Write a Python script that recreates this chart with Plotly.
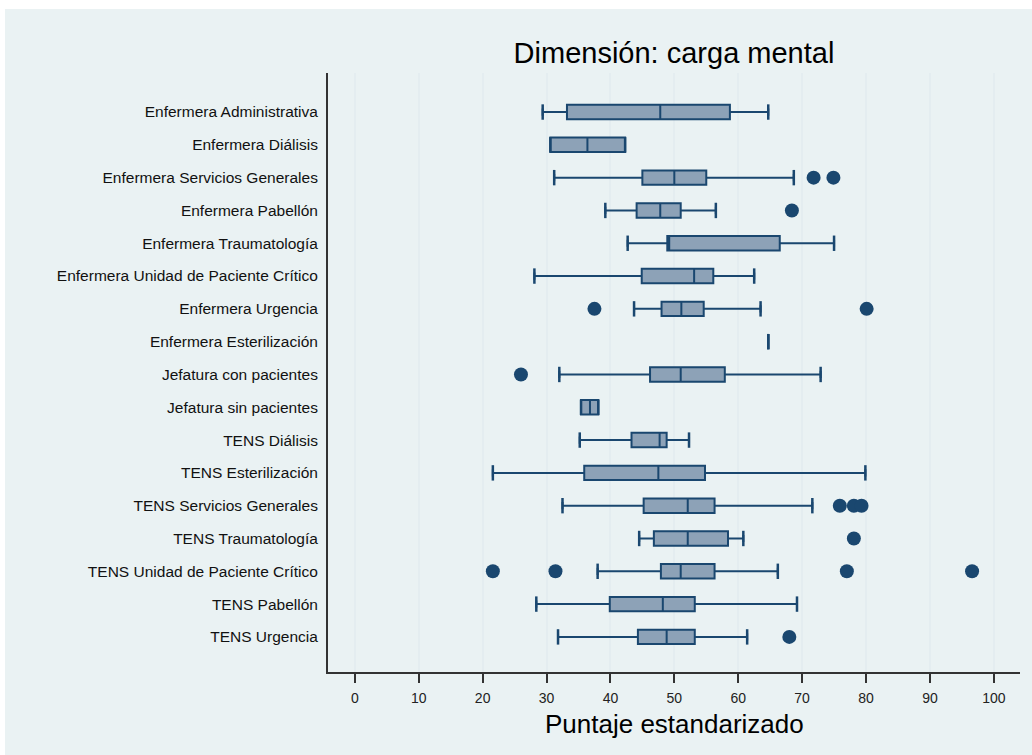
import plotly.graph_objects as go

categories = [
    "Enfermera Administrativa",
    "Enfermera Diálisis",
    "Enfermera Servicios Generales",
    "Enfermera Pabellón",
    "Enfermera Traumatología",
    "Enfermera Unidad de Paciente Crítico",
    "Enfermera Urgencia",
    "Enfermera Esterilización",
    "Jefatura con pacientes",
    "Jefatura sin pacientes",
    "TENS Diálisis",
    "TENS Esterilización",
    "TENS Servicios Generales",
    "TENS Traumatología",
    "TENS Unidad de Paciente Crítico",
    "TENS Pabellón",
    "TENS Urgencia",
]
lower = [29.4, 30.6, 31.2, 39.2, 42.7, 28.1, 43.7, 64.7, 32.0, 35.4, 35.2, 21.6, 32.5, 44.5, 38.0, 28.4, 31.8]
q1 = [33.2, 30.6, 45.0, 44.1, 48.9, 44.9, 48.0, 64.7, 46.2, 35.4, 43.3, 35.9, 45.2, 46.8, 47.9, 39.9, 44.3]
median = [47.8, 36.4, 50.0, 47.8, 49.2, 53.1, 51.1, 64.7, 51.0, 36.8, 47.7, 47.5, 52.1, 52.1, 51.0, 48.2, 48.8]
q3 = [58.7, 42.3, 55.0, 51.0, 66.5, 56.1, 54.6, 64.7, 57.9, 38.1, 48.8, 54.8, 56.3, 58.4, 56.3, 53.2, 53.2]
upper = [64.7, 42.3, 68.7, 56.5, 75.0, 62.5, 63.5, 64.7, 72.9, 38.1, 52.3, 79.9, 71.6, 60.8, 66.2, 69.2, 61.4]

outlier_cat = [
    "Enfermera Servicios Generales", "Enfermera Servicios Generales",
    "Enfermera Pabellón",
    "Enfermera Urgencia", "Enfermera Urgencia",
    "Jefatura con pacientes",
    "TENS Servicios Generales", "TENS Servicios Generales", "TENS Servicios Generales",
    "TENS Traumatología",
    "TENS Unidad de Paciente Crítico", "TENS Unidad de Paciente Crítico",
    "TENS Unidad de Paciente Crítico", "TENS Unidad de Paciente Crítico",
    "TENS Urgencia",
]
outlier_val = [71.8, 74.9, 68.4, 37.5, 80.1, 26.0, 75.9, 78.1, 79.3, 78.1, 21.6, 31.4, 77.0, 96.6, 68.0]

x_ticks = list(range(0, 101, 10))

NAVY = "#1A476F"
FILL = "#8DA2B7"
BG = "#EAF2F3"
FONT = "Liberation Sans, Arial, sans-serif"

fig = go.Figure()

fig.add_trace(go.Box(
    y=categories,
    q1=q1, median=median, q3=q3,
    lowerfence=lower, upperfence=upper,
    orientation="h",
    fillcolor=FILL,
    line=dict(color=NAVY, width=2),
    width=0.44,
    boxpoints=False,
    showlegend=False,
    hoverinfo="skip",
))

# whisker caps
fig.add_trace(go.Scatter(
    x=lower + upper,
    y=categories + categories,
    mode="markers",
    marker=dict(symbol="line-ns", size=11, line=dict(color=NAVY, width=2.5), color=NAVY),
    showlegend=False,
    hoverinfo="skip",
))

# outliers
fig.add_trace(go.Scatter(
    x=outlier_val,
    y=outlier_cat,
    mode="markers",
    marker=dict(symbol="circle", size=14, color=NAVY),
    showlegend=False,
    hoverinfo="skip",
))

fig.update_layout(
    width=1032, height=755,
    margin=dict(l=328, r=12, t=73, b=83),
    paper_bgcolor="white",
    plot_bgcolor="white",
    font=dict(family=FONT, color="#111111"),
    title=dict(
        text="Dimensión: carga mental",
        x=0.5, xref="paper", xanchor="center",
        y=1 - 53 / 755, yref="container", yanchor="middle",
        font=dict(size=29, color="#000000", family=FONT),
    ),
    xaxis=dict(
        range=[-4.2, 104.1],
        tickmode="array", tickvals=x_ticks, ticktext=[str(t) for t in x_ticks],
        ticks="outside", ticklen=9, tickwidth=2, tickcolor="#333333",
        tickfont=dict(size=14, color="#222222"),
        ticklabelstandoff=3,
        showgrid=True, gridcolor="#E4EDF0", gridwidth=2,
        showline=True, linecolor="#333333", linewidth=2,
        zeroline=False,
    ),
    yaxis=dict(
        type="category",
        categoryorder="array", categoryarray=categories,
        range=[17.07, -1.19],
        ticks="outside", ticklen=5, tickcolor="rgba(0,0,0,0)",
        tickfont=dict(size=15.5, color="#111111"),
        showgrid=False,
        showline=True, linecolor="#333333", linewidth=2,
        zeroline=False,
    ),
    shapes=[dict(
        type="rect", xref="paper", yref="paper",
        x0=-(328 - 5) / 692, x1=(1032 - 328) / 692,
        y0=-83 / 599, y1=(599 + 73 - 9) / 599,
        fillcolor=BG, line=dict(width=0), layer="below",
    )],
    annotations=[dict(
        text="Puntaje estandarizado",
        xref="paper", yref="paper", x=0.5, y=0,
        xanchor="center", yanchor="middle", yshift=-52,
        showarrow=False,
        font=dict(size=26, color="#000000", family=FONT),
    )],
)

fig.write_html("out.html")
